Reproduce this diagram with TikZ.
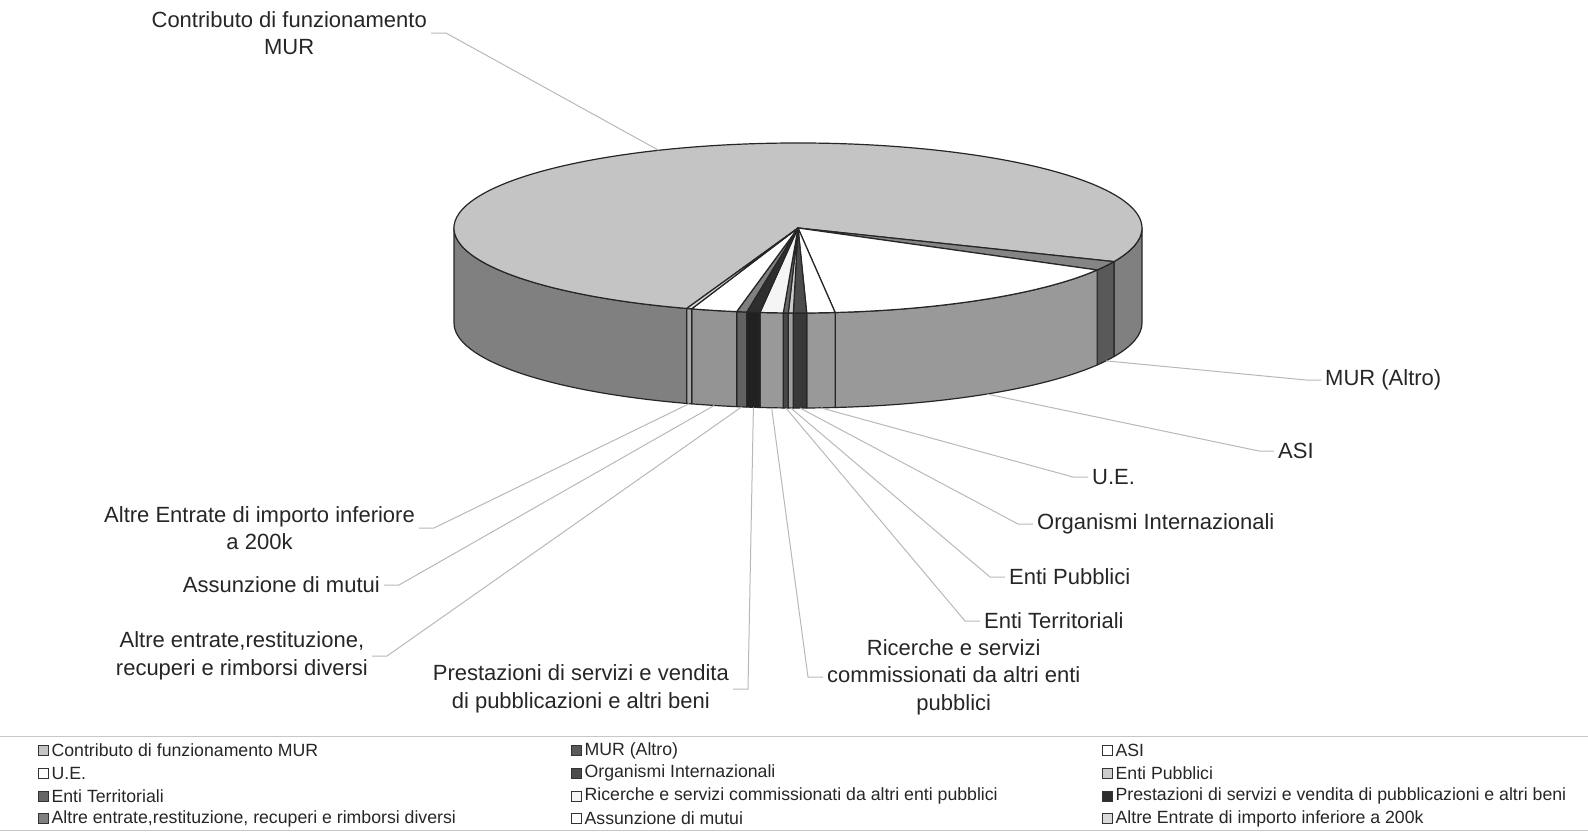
\documentclass[tikz,border=0pt]{standalone}
\usepackage{fontspec}
\setmainfont{Liberation Sans}
\usetikzlibrary{positioning}

\colorlet{contrTop}{black!23}\colorlet{contrSide}{black!50}
\colorlet{murTop}{black!48}\colorlet{murSide}{black!65}
\colorlet{asiTop}{white}\colorlet{asiSide}{black!40}
\colorlet{ueTop}{white}\colorlet{ueSide}{black!40}
\colorlet{orgTop}{black!70}\colorlet{orgSide}{black!78}
\colorlet{epTop}{black!20}\colorlet{epSide}{black!38}
\colorlet{etTop}{black!60}\colorlet{etSide}{black!72}
\colorlet{ricTop}{black!4}\colorlet{ricSide}{black!40}
\colorlet{presTop}{black!82}\colorlet{presSide}{black!87}
\colorlet{altrTop}{black!50}\colorlet{altrSide}{black!62}
\colorlet{assTop}{white}\colorlet{assSide}{black!42}
\colorlet{aduTop}{black!15}\colorlet{aduSide}{black!35}

\begin{document}
\begin{tikzpicture}[x=1pt,y=-1pt,
		rim/.style={draw=black!85, line width=1.2pt, line join=round},
		leader/.style={draw=black!28, line width=1pt},
		lbl/.style={font=\fontsize{22}{27.5}\selectfont, align=center, inner sep=4pt, text=black!85},
		key/.style={draw=black!80, line width=0.8pt, minimum size=10pt, inner sep=0pt},
		keytext/.style={font=\fontsize{17.7}{20}\selectfont, inner sep=0pt, text=black!85}]
	\useasboundingbox (0,0) rectangle (1588,831);

	\foreach \a/\b/\c in {108.87/180/contrSide, 0/23.3/contrSide, 23.3/29.6/murSide, 29.6/83.8/asiSide,
			83.8/88.55/ueSide, 88.55/90.78/orgSide, 90.78/91.62/epSide, 91.62/92.45/etSide, 92.45/96.34/ricSide,
			96.34/98.57/presSide, 98.57/100.27/altrSide, 100.27/108/assSide, 108/108.87/aduSide}
		\filldraw[rim, fill=\c] (798,228) ++(\a:344 and 85) arc[start angle=\a, end angle=\b, x radius=344, y radius=85]
			-- ++(0,95) arc[start angle=\b, end angle=\a, x radius=344, y radius=85] -- cycle;

	\foreach \a/\b/\c in {-251.13/23.3/contrTop, 23.3/29.6/murTop, 29.6/83.8/asiTop,
			83.8/88.55/ueTop, 88.55/90.78/orgTop, 90.78/91.62/epTop, 91.62/92.45/etTop, 92.45/96.34/ricTop,
			96.34/98.57/presTop, 98.57/100.27/altrTop, 100.27/108/assTop, 108/108.87/aduTop}
		\filldraw[rim, fill=\c] (798,228) -- ++(\a:344 and 85) arc[start angle=\a, end angle=\b, x radius=344, y radius=85] -- cycle;

	\path (798,228) ++(246.1:344 and 85) coordinate (pContr);
	\foreach \m/\n in {26.45/pMura, 56.7/pAsi, 86.2/pUe, 89.67/pOrg, 91.2/pEp, 92.03/pEt,
			94.4/pRic, 97.45/pPrest, 99.42/pAltr, 104.1/pAss, 108.43/pAdu}
		\path (798,323) ++(\m:344 and 85) coordinate (\n);

	\node[lbl, anchor=east] (lContr) at (431,33) {Contributo di funzionamento\\MUR};
	\node[lbl, anchor=west] (lMura) at (1321,380) {MUR (Altro)};
	\node[lbl, anchor=west] (lAsi) at (1274,451) {ASI};
	\node[lbl, anchor=west] (lUe) at (1088,477) {U.E.};
	\node[lbl, anchor=west] (lOrg) at (1033,524) {Organismi Internazionali};
	\node[lbl, anchor=west] (lEp) at (1005,577) {Enti Pubblici};
	\node[lbl, anchor=west] (lEt) at (980,621) {Enti Territoriali};
	\node[lbl, anchor=west] (lRic) at (823,677) {Ricerche e servizi\\commissionati da altri enti\\pubblici};
	\node[lbl, anchor=east] (lPrest) at (733,689) {Prestazioni di servizi e vendita\\di pubblicazioni e altri beni};
	\node[lbl, anchor=east] (lAltr) at (372,656) {Altre entrate,restituzione,\\recuperi e rimborsi diversi};
	\node[lbl, anchor=east] (lAss) at (384,585) {Assunzione di mutui};
	\node[lbl, anchor=east] (lAdu) at (419,528) {Altre Entrate di importo inferiore\\a 200k};

	\draw[leader] (lContr.east) -- ++(15,0) -- (pContr);
	\foreach \l/\p in {lMura/pMura, lAsi/pAsi, lUe/pUe, lOrg/pOrg, lEp/pEp, lEt/pEt, lRic/pRic}
		\draw[leader] (\l.west) -- ++(-15,0) -- (\p);
	\foreach \l/\p in {lPrest/pPrest, lAltr/pAltr, lAss/pAss, lAdu/pAdu}
		\draw[leader] (\l.east) -- ++(15,0) -- (\p);

	\draw[black!22, line width=1pt] (0,736) -- (1588,736);
	\draw[black!22, line width=1pt] (0,830) -- (1588,830);

	\foreach \n/\x/\y/\c/\t in {1/43/750.5/contrTop/{Contributo di funzionamento MUR},
			2/576/750.5/murSide/{MUR (Altro)}, 3/1107/750.5/asiTop/{ASI},
			4/43/773/ueTop/{U.E.}, 5/576/773/orgTop/{Organismi Internazionali}, 6/1107/773/epTop/{Enti Pubblici},
			7/43/796/etTop/{Enti Territoriali}, 8/576/796/ricTop/{Ricerche e servizi commissionati da altri enti pubblici},
			9/1107/796/presTop/{Prestazioni di servizi e vendita di pubblicazioni e altri beni},
			10/43/818.5/altrTop/{Altre entrate,restituzione, recuperi e rimborsi diversi},
			11/576/818.5/assTop/{Assunzione di mutui}, 12/1107/818.5/aduTop/{Altre Entrate di importo inferiore a 200k}}
	{
		\node[key, fill=\c] (k\n) at (\x,\y) {};
		\node[keytext, right=3pt of k\n] (t\n) {\t};
	}
\end{tikzpicture}
\end{document}
